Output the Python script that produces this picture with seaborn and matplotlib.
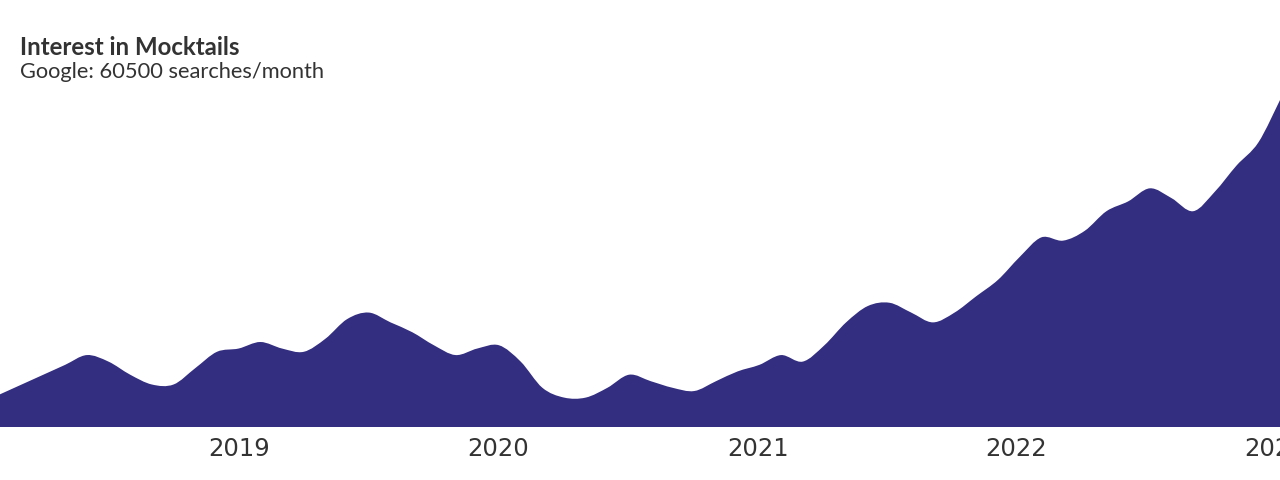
import matplotlib
matplotlib.use("Agg")
import matplotlib.pyplot as plt
import matplotlib.dates as mdates
from matplotlib.path import Path
from matplotlib.patches import PathPatch
import seaborn as sns
import numpy as np
import pandas as pd

# search interest (index, 100 = peak), read at roughly monthly steps
# over the weekly Google Trends window 28 Jan 2018 - 8 Jan 2023
interest = [10, 13, 16, 19, 22, 20, 16, 13, 13, 18, 23,
            24, 26, 24, 23, 27, 33, 35, 32, 29, 25, 22, 24,
            25, 20, 12, 9, 9, 12, 16, 14, 12, 11, 14, 17,
            19, 22, 20, 25, 32, 37, 38, 35, 32, 35, 40, 45,
            52, 58, 57, 60, 66, 69, 73, 70, 66, 72, 80, 87,
            100]
dates = pd.date_range("2018-01-28", "2023-01-08", periods=len(interest))
year_ticks = ["2019", "2020", "2021", "2022", "2023"]

title = "Interest in Mocktails"
subtitle = "Google: 60500 searches/month"
fill_col = "#332e80"
text_col = "#333333"

sns.set_theme(style="white")
plt.rcParams["font.family"] = ["Lato", "DejaVu Sans"]

df = pd.DataFrame({"date": dates, "interest": interest})

fig = plt.figure(figsize=(12.8, 4.8), dpi=100)
ax = fig.add_axes([0, 53 / 480, 1, 427 / 480])

# invisible line just to hand the dates to the axis
sns.lineplot(data=df, x="date", y="interest", ax=ax, linewidth=0)

# smooth area: catmull-rom curve through the points, drawn as bezier
xs = mdates.date2num(df["date"])
ys = np.asarray(interest, dtype=float)
verts = [(xs[0], 0), (xs[0], ys[0])]
codes = [Path.MOVETO, Path.LINETO]
n = len(xs)
for i in range(n - 1):
    p0 = (xs[max(i - 1, 0)], ys[max(i - 1, 0)])
    p1 = (xs[i], ys[i])
    p2 = (xs[i + 1], ys[i + 1])
    p3 = (xs[min(i + 2, n - 1)], ys[min(i + 2, n - 1)])
    c1 = (p1[0] + (p2[0] - p0[0]) / 6, p1[1] + (p2[1] - p0[1]) / 6)
    c2 = (p2[0] - (p3[0] - p1[0]) / 6, p2[1] - (p3[1] - p1[1]) / 6)
    verts += [c1, c2, p2]
    codes += [Path.CURVE4] * 3
verts += [(xs[-1], 0), (xs[0], 0)]
codes += [Path.LINETO, Path.CLOSEPOLY]
ax.add_patch(PathPatch(Path(verts, codes), facecolor=fill_col,
                       edgecolor="none", zorder=2))

ax.set_xlim(dates[0], dates[-1])
ax.set_ylim(0, 130.6)
ax.set_xticks(pd.to_datetime([y + "-01-01" for y in year_ticks]))
ax.set_xticklabels(year_ticks, fontsize=17.5, color=text_col,
                   family="DejaVu Sans")
ax.tick_params(axis="x", length=0, pad=7)
ax.set_yticks([])
ax.set_xlabel("")
ax.set_ylabel("")
sns.despine(ax=ax, left=True, bottom=True)

fig.text(20 / 1280, 1 - 55 / 480, title, fontsize=17.3, fontweight="bold",
         color=text_col, va="baseline")
fig.text(20 / 1280, 1 - 78 / 480, subtitle, fontsize=15.75,
         color=text_col, va="baseline")

fig.savefig("out.png", dpi=100)
